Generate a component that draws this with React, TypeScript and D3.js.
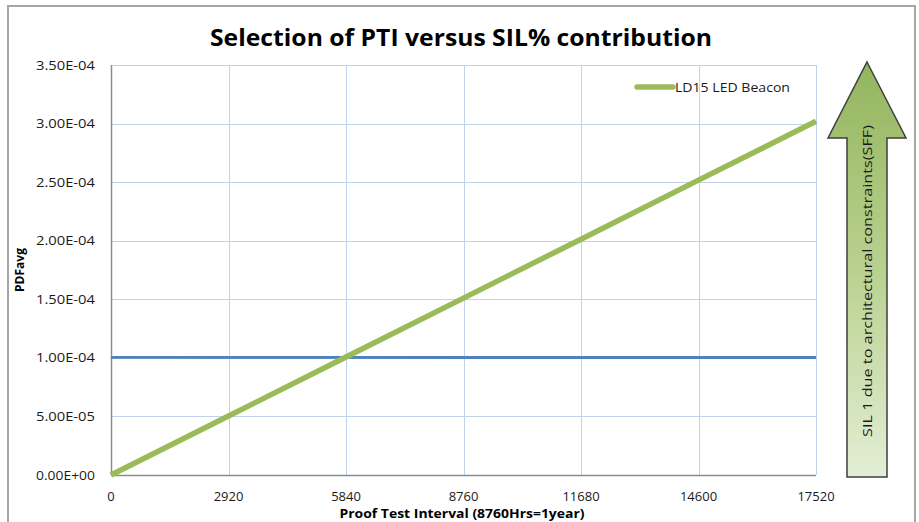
import React from 'react';
import * as d3 from 'd3';

// proof test intervals (hours)
const intervals = [0, 2920, 5840, 8760, 11680, 14600, 17520];
// PFDavg for the LED beacon (green)
const beaconPfd = [0, 5.03e-5, 1.007e-4, 1.51e-4, 2.013e-4, 2.517e-4, 3.02e-4];
// SIL limit line (blue)
const limitPfd = [1.01e-4, 1.008e-4, 1.007e-4, 1.005e-4, 1.004e-4, 1.002e-4, 1.0e-4];
const yTicks = [0, 5e-5, 1e-4, 1.5e-4, 2e-4, 2.5e-4, 3e-4, 3.5e-4];
const seriesName = 'LD15 LED Beacon';
const arrowText = 'SIL 1 due to architectural constraints(SFF)';

export default function App() {
    const width = 919;
    const height = 522;
    const margin = { top: 65, right: 103, bottom: 47, left: 111 };
    const innerWidth = width - margin.left - margin.right;
    const innerHeight = height - margin.top - margin.bottom;

    const xScale = d3.scaleLinear().domain([0, 17520]).range([0, innerWidth]);
    const yScale = d3.scaleLinear().domain([0, 3.5e-4]).range([innerHeight, 0]);

    const line = d3.line<number>()
        .x((d, i) => xScale(intervals[i]))
        .y(d => yScale(d));

    const font = 'Open Sans, DejaVu Sans, sans-serif';
    const fmt = (t: number) => d3.format('.2e')(t).replace(/e([+-])(\d)$/, 'E$10$2').replace('e', 'E');

    // arrow geometry (in page coords)
    const ax = 867, shaftHalf = 20, headHalf = 39, tipY = 62, baseY = 138, bottomY = 477;
    const arrowPath = `M${ax},${tipY} L${ax + headHalf},${baseY} L${ax + shaftHalf},${baseY} L${ax + shaftHalf},${bottomY} L${ax - shaftHalf},${bottomY} L${ax - shaftHalf},${baseY} L${ax - headHalf},${baseY} Z`;

    return (
        <svg width={width} height={height} style={{ position: 'absolute', left: 0, top: 0, background: '#fff' }}>
            <defs>
                <linearGradient id="arrowFill" x1="0" y1="0" x2="0" y2="1">
                    <stop offset="0%" stopColor="#93b55e" />
                    <stop offset="50%" stopColor="#b9d18f" />
                    <stop offset="100%" stopColor="#e3eed5" />
                </linearGradient>
                <filter id="shadow" x="-5%" y="-50%" width="110%" height="200%">
                    <feGaussianBlur in="SourceAlpha" stdDeviation="1.2" />
                    <feOffset dx="0" dy="2" result="b" />
                    <feComponentTransfer><feFuncA type="linear" slope="0.35" /></feComponentTransfer>
                    <feMerge><feMergeNode /><feMergeNode in="SourceGraphic" /></feMerge>
                </filter>
            </defs>

            {/* outer frame */}
            <path d={`M8,${height + 2} L8,6 L915,6 L915,${height + 2}`} fill="none" stroke="#a6a6a6" strokeWidth={2} />

            <text x={461} y={46} textAnchor="middle" fontFamily={font} fontWeight="bold" fontSize={23}
                textLength={502} lengthAdjust="spacingAndGlyphs" fill="#000">
                Selection of PTI versus SIL% contribution
            </text>

            <g transform={`translate(${margin.left},${margin.top})`}>
                {/* grid */}
                {yTicks.map(t => (
                    <line key={'gy' + t} x1={0} x2={innerWidth} y1={Math.round(yScale(t)) + 0.5} y2={Math.round(yScale(t)) + 0.5}
                        stroke="#c0d2ec" strokeWidth={1} />
                ))}
                {intervals.map(t => (
                    <line key={'gx' + t} x1={Math.round(xScale(t)) + 0.5} x2={Math.round(xScale(t)) + 0.5} y1={0} y2={innerHeight}
                        stroke="#c0d2ec" strokeWidth={1} />
                ))}
                {/* axes */}
                <line x1={0.5} x2={0.5} y1={0} y2={innerHeight} stroke="#8c8c8c" strokeWidth={1.5} />
                <line x1={0} x2={innerWidth} y1={innerHeight + 0.5} y2={innerHeight + 0.5} stroke="#8c8c8c" strokeWidth={1.5} />

                {yTicks.map(t => (
                    <text key={'ty' + t} x={-16} y={yScale(t) + 4.5} textAnchor="end" fontFamily={font} fontSize={12.5}
                        textLength={59} lengthAdjust="spacingAndGlyphs" fill="#1a1a1a">
                        {t === 0 ? '0.00E+00' : fmt(t)}
                    </text>
                ))}
                {intervals.map(t => (
                    <text key={'tx' + t} x={xScale(t)} y={innerHeight + 26} textAnchor="middle" fontFamily={font} fontSize={13} fill="#1a1a1a">
                        {t}
                    </text>
                ))}

                {/* series */}
                <path d={line(limitPfd) || ''} fill="none" stroke="#4f81bd" strokeWidth={3.5} filter="url(#shadow)" />
                <path d={line(beaconPfd) || ''} fill="none" stroke="#9bbb59" strokeWidth={5.5} />

                {/* legend */}
                <line x1={526} x2={562} y1={22} y2={22} stroke="#9bbb59" strokeWidth={5.5} strokeLinecap="round" />
                <text x={564} y={26.5} fontFamily={font} fontSize={13} textLength={115} lengthAdjust="spacingAndGlyphs" fill="#1a1a1a">
                    {seriesName}
                </text>
            </g>

            <text transform="translate(24,270) rotate(-90)" textAnchor="middle" fontFamily={font} fontWeight="bold" fontSize={12} fill="#000">
                PDFavg
            </text>
            <text x={462} y={518} textAnchor="middle" fontFamily={font} fontWeight="bold" fontSize={12.5}
                textLength={245} lengthAdjust="spacingAndGlyphs" fill="#000">
                Proof Test Interval (8760Hrs=1year)
            </text>

            {/* SIL arrow */}
            <path d={arrowPath} fill="url(#arrowFill)" stroke="#3f3f3f" strokeWidth={1.5} />
            <text transform={`translate(${ax + 5},${281}) rotate(-90)`} textAnchor="middle" fontFamily={font} fontSize={13.5}
                textLength={312} lengthAdjust="spacingAndGlyphs" fill="#1a1a1a">
                {arrowText}
            </text>
        </svg>
    );
}
